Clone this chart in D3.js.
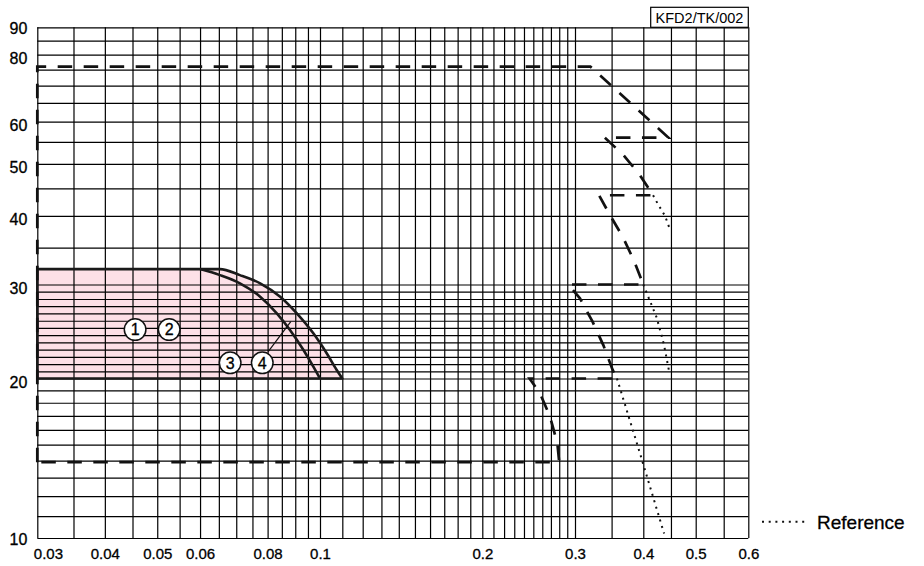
<!DOCTYPE html>
<html><head><meta charset="utf-8">
<script src="https://cdn.jsdelivr.net/npm/d3@7"></script>
<style>
body{margin:0;background:#fff}
svg{display:block}
text{font-family:"Liberation Sans",Arial,Helvetica,sans-serif;fill:#000}
</style>
</head><body><svg id="c" width="924" height="566"></svg>
<script>
// ---- data ----
const xGridValues = [0.03,0.035,0.04,0.045,0.05,0.055,0.06,0.065,0.07,0.075,0.08,0.085,0.09,0.095,
  0.1,0.11,0.12,0.13,0.14,0.15,0.16,0.17,0.18,0.19,
  0.2,0.21,0.22,0.23,0.24,0.25,0.26,0.27,0.28,0.29,
  0.3,0.35,0.4,0.45,0.5,0.55,0.6];
// horizontal grid (dense, evenly spaced band between 20 and 30)
const yGridValues = [10,11,12,13,14,15,16,17,18,19,20,
  20.63,21.28,21.96,22.65,23.37,24.11,24.88,25.66,26.48,27.32,28.18,29.08,
  30,35,40,45,50,55,60,65,70,75,80,85,90];
const xTickLabels = [0.03,0.04,0.05,0.06,0.08,0.1,0.2,0.3,0.4,0.5,0.6];
const yTickLabels = [10,20,30,40,50,60,80,90];

// solid curves (1,2 inner / 3,4 outer)
const innerCurveX = [0.03,0.06,0.0653,0.0711,0.0775,0.0832,0.088,0.0932,0.0972,0.1];
const innerCurveY = [32,32,31.2,30.15,28.46,26.49,24.66,22.61,21.05,20];
const outerCurveX = [0.03,0.0653,0.0711,0.0775,0.0844,0.0906,0.0972,0.1029,0.1074,0.11];
const outerCurveY = [32,32,31.2,30.15,28.46,26.49,24.3,22.3,20.75,20];
const regionBottomY = 20;

// dashed staircase boundary
const dashedX = [0.03,0.03,0.32,0.445,0.34,0.3677,0.394,0.417,0.332,0.3477,0.3667,0.3846,0.4,0.291,0.3063,0.323,0.338,0.3516,0.358,0.246,0.2574,0.269,0.2777,0.28,0.03];
const dashedY = [13.9,76,76,56,56,52.0,47.7,43.7,43.7,40.1,36.65,33.15,30,30,28.27,25.55,23.1,20.75,20,20,18.75,16.94,15.09,13.9,13.9];

// dotted reference lines
const ref1X = [0.417,0.425,0.4387,0.448];
const ref1Y = [43.7,42.2,40,37.8];
const ref2X = [0.4,0.4235,0.437,0.447];
const ref2Y = [30,26.0,23.1,20.5];
const ref3X = [0.358,0.394,0.437];
const ref3Y = [20,14.5,10.2];

// curve markers
const markerText = ["1","2","3","4"];
const markerX = [0.0455,0.0526,0.0682,0.0782];
const markerY = [24.7,24.7,21.4,21.4];
const leaderX = [0.0802,0.0883];
const leaderY = [22.45,25.55];

const chartCode = "KFD2/TK/002";
const legendLabel = "Reference";

// ---- scales ----
const L = 37.3, R = 748.3, T = 27.3, B = 538;
const x = d3.scaleLog()
  .domain([0.03,0.1,0.2,0.3,0.4,0.5,0.55,0.6])
  .range([L,320,482.3,575,643.3,695.7,723.7,R]);
const y = d3.scaleLog()
  .domain([10,20,30,40,90])
  .range([B,378.5,284.5,215.8,T]);

const svg = d3.select("#c");
const zip = (xs, ys) => xs.map((v,i)=>[v, ys[i]]);
const line = d3.line().x(d=>x(d[0])).y(d=>y(d[1]));
const smooth = d3.line().x(d=>x(d[0])).y(d=>y(d[1])).curve(d3.curveMonotoneX);

// pink region (outer curve)
const outerPts = zip(outerCurveX, outerCurveY);
const innerPts = zip(innerCurveX, innerCurveY);
const regionPath = `M${x(outerCurveX[0])},${y(regionBottomY)}` + smooth(outerPts).replace(/^M/,"L") + "Z";
svg.append("path").attr("d", regionPath).attr("fill","#fde0e7").attr("stroke","none");

// grid via axes
const gx = svg.append("g").attr("transform",`translate(0,${B})`)
  .call(d3.axisBottom(x).tickValues(xGridValues).tickSize(-(B-T)).tickFormat(""));
gx.select(".domain").remove();
gx.selectAll("line").attr("stroke","#000").attr("stroke-width",1.2);
const gy = svg.append("g").attr("transform",`translate(${L},0)`)
  .call(d3.axisLeft(y).tickValues(yGridValues).tickSize(-(R-L)).tickFormat(""));
gy.select(".domain").remove();
gy.selectAll("line").attr("stroke","#000").attr("stroke-width",1.2);

// tick labels
const lx = svg.append("g").attr("transform",`translate(0,${B})`)
  .call(d3.axisBottom(x).tickValues(xTickLabels).tickSize(0).tickPadding(10).tickFormat(d=>String(d)));
lx.select(".domain").remove();
lx.selectAll("text").attr("font-size","15px").attr("font-family",null).attr("fill","#000")
  .attr("stroke","#000").attr("stroke-width",0.3);
lx.selectAll(".tick").filter(d=>d===0.03).select("text").attr("text-anchor","start").attr("x",-4);
const ly = svg.append("g").attr("transform",`translate(${L},0)`)
  .call(d3.axisLeft(y).tickValues(yTickLabels).tickSize(0).tickPadding(10).tickFormat(d=>String(d)));
ly.select(".domain").remove();
ly.selectAll("text").attr("font-size","16px").attr("font-family",null).attr("fill","#000")
  .attr("dy",d=>(d===10||d===90)?"0.4em":"0.55em")
  .attr("stroke","#000").attr("stroke-width",0.3);

// region outline + inner curve
svg.append("path").attr("d", regionPath).attr("fill","none").attr("stroke","#1a1a1a").attr("stroke-width",2.6).attr("stroke-linejoin","round");
svg.append("path").attr("d", smooth(innerPts.slice(1))).attr("fill","none").attr("stroke","#1a1a1a").attr("stroke-width",2.6);

// dashed staircase
svg.append("path").attr("d", line(zip(dashedX, dashedY)))
  .attr("fill","none").attr("stroke","#111").attr("stroke-width",2.7)
  .attr("stroke-dasharray","14.5,11.5").attr("stroke-linejoin","miter");

// dotted reference
[[ref1X,ref1Y],[ref2X,ref2Y],[ref3X,ref3Y]].forEach(([xs,ys])=>{
  svg.append("path").attr("d", line(zip(xs,ys)))
    .attr("fill","none").attr("stroke","#111").attr("stroke-width",2)
    .attr("stroke-dasharray","2,4.7");
});

// leader line
svg.append("path").attr("d", line(zip(leaderX, leaderY))).attr("stroke","#111").attr("stroke-width",1.2).attr("fill","none");

// markers
const mk = svg.append("g").selectAll("g").data(markerText).join("g")
  .attr("transform",(d,i)=>`translate(${x(markerX[i])},${y(markerY[i])})`);
mk.append("circle").attr("r",10.8).attr("fill","#fff").attr("stroke","#111").attr("stroke-width",1.5);
mk.append("text").text(d=>d).attr("text-anchor","middle").attr("dy","0.36em").attr("font-size","16px")
  .attr("stroke","#000").attr("stroke-width",0.3);

// title box
svg.append("rect").attr("x",650.7).attr("y",7.3).attr("width",R-650.7).attr("height",T-7.3)
  .attr("fill","#fff").attr("stroke","#000").attr("stroke-width",1.2);
svg.append("text").attr("x",(650.7+R)/2).attr("y",22.6).attr("text-anchor","middle")
  .attr("font-size","14.5px").text(chartCode);

// legend
svg.append("line").attr("x1",762).attr("x2",806).attr("y1",521.7).attr("y2",521.7)
  .attr("stroke","#111").attr("stroke-width",2).attr("stroke-dasharray","2,4.7");
svg.append("text").attr("x",817).attr("y",528.5).attr("font-size","19px")
  .attr("stroke","#000").attr("stroke-width",0.3).text(legendLabel);
</script>
</body></html>
